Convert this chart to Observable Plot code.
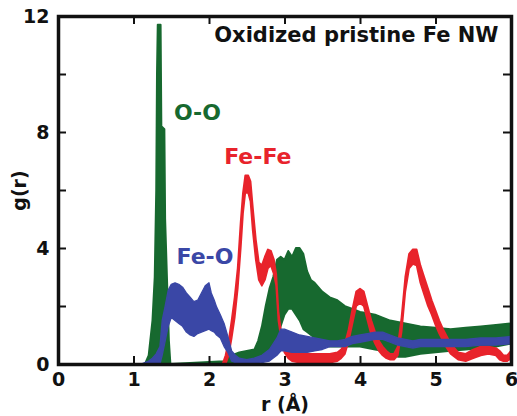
<!DOCTYPE html>
<html>
<head>
<meta charset="utf-8">
<script src="https://cdn.jsdelivr.net/npm/d3@7"></script>
<script src="https://cdn.jsdelivr.net/npm/@observablehq/plot@0.6"></script>
<style>
  html, body { margin: 0; padding: 0; background: #fff; }
  #chart svg { display: block; }
</style>
</head>
<body>
<div id="chart"></div>
<script>
// ---- data ----
// O-O partial g(r): upper / lower envelope of the noisy curve
const ooR  = [1.15,1.2,1.25,1.28,1.3,1.31,1.32,1.36,1.37,1.41,
              1.42,1.45,1.47,1.49,2.2,2.3,2.4,2.5,2.6,2.65,
              2.7,2.75,2.8,2.85,2.9,2.95,3.0,3.05,3.1,3.15,
              3.2,3.25,3.3,3.35,3.4,3.5,3.6,3.7,3.8,3.9,
              4.0,4.1,4.2,4.3,4.4,4.5,4.6,4.7,4.8,5.0,
              5.2,5.4,5.6,5.8,6.0];
const ooHi = [0,0.3,1.5,3.0,6.0,10.0,11.7,11.7,8.2,8.1,
              5.0,2.5,0.8,0,0.1,0.3,0.4,0.45,0.5,0.8,
              1.3,2.0,2.6,3.0,3.6,3.7,3.6,3.9,3.7,4.0,
              4.0,3.8,3.2,2.9,2.8,2.5,2.3,2.2,2.0,1.9,
              1.8,1.75,1.7,1.6,1.5,1.45,1.4,1.35,1.3,1.25,
              1.2,1.25,1.3,1.35,1.4];
const ooLo = [0,0,0,0,0,0,0,0,0,0,
              0,0,0,0,0,0,0.05,0.1,0.1,0.15,
              0.2,0.3,0.5,0.7,0.9,1.3,1.7,1.9,1.9,1.7,
              1.5,1.2,1.1,1.0,0.9,0.7,0.6,0.6,0.6,0.6,
              0.6,0.55,0.5,0.45,0.35,0.25,0.25,0.3,0.35,0.4,
              0.45,0.5,0.55,0.6,0.7];

// Fe-Fe partial g(r)
const ffR  = [2.18,2.22,2.26,2.3,2.34,2.38,2.42,2.45,2.48,2.52,
              2.55,2.58,2.62,2.66,2.7,2.74,2.78,2.82,2.86,2.89,
              2.92,2.96,3.0,3.05,3.1,3.2,3.3,3.4,3.5,3.6,
              3.7,3.75,3.8,3.85,3.9,3.95,4.0,4.05,4.1,4.15,
              4.2,4.25,4.3,4.35,4.4,4.45,4.5,4.55,4.6,4.65,
              4.7,4.75,4.8,4.85,4.9,4.95,5.0,5.05,5.1,5.15,
              5.2,5.3,5.4,5.5,5.6,5.7,5.8,5.85,5.9,5.95,
              6.0];
const ffHi = [0,0.3,0.8,1.5,2.3,3.3,4.9,5.9,6.5,6.5,
              6.3,5.4,4.3,3.5,3.4,3.7,3.95,3.9,3.6,3.1,
              1.8,1.0,0.6,0.45,0.4,0.35,0.35,0.35,0.35,0.35,
              0.4,0.5,0.7,1.2,1.9,2.5,2.6,2.5,2.0,1.5,
              1.1,0.8,0.6,0.45,0.35,0.35,0.6,1.6,3.0,3.8,
              3.95,3.95,3.4,3.0,2.6,2.2,1.85,1.5,1.2,0.95,
              0.7,0.4,0.35,0.5,0.6,0.6,0.55,0.45,0.3,0.3,
              0.45];
const ffLo = [0,0,0.3,0.9,1.6,2.6,4.0,5.2,5.9,5.9,
              5.6,4.6,3.6,2.9,2.7,2.9,3.3,3.4,3.1,2.7,
              1.5,0.8,0.4,0.2,0.1,0.05,0.03,0.03,0.03,0.05,
              0.1,0.2,0.35,0.8,1.4,2.0,2.1,2.0,1.5,1.0,
              0.7,0.45,0.3,0.2,0.15,0.15,0.3,1.1,2.5,3.3,
              3.45,3.4,2.8,2.4,2.0,1.7,1.35,1.05,0.8,0.55,
              0.35,0.15,0.1,0.2,0.3,0.35,0.3,0.15,0.1,0.1,
              0.2];

// Fe-O partial g(r)
const foR  = [1.1,1.15,1.2,1.25,1.3,1.35,1.38,1.42,1.46,1.5,
              1.55,1.6,1.65,1.7,1.75,1.8,1.85,1.9,1.95,2.0,
              2.03,2.07,2.1,2.15,2.2,2.25,2.3,2.35,2.4,2.5,
              2.6,2.7,2.8,2.9,2.95,3.0,3.1,3.2,3.3,3.4,
              3.5,3.6,3.7,3.8,3.9,4.0,4.1,4.2,4.3,4.4,
              4.5,4.6,4.7,4.8,4.9,5.0,5.2,5.4,5.6,5.8,
              6.0];
const foHi = [0,0.05,0.1,0.2,0.35,0.6,1.5,2.0,2.55,2.75,
              2.8,2.75,2.65,2.45,2.3,2.15,2.2,2.45,2.7,2.8,
              2.45,2.2,1.97,1.7,1.4,0.95,0.45,0.3,0.2,0.15,
              0.2,0.3,0.5,0.9,1.2,1.2,1.1,1.0,0.95,0.9,
              0.85,0.8,0.8,0.85,0.95,1.0,1.05,1.1,1.1,1.0,
              0.9,0.85,0.8,0.85,0.85,0.85,0.85,0.85,0.9,0.9,
              0.95];
const foLo = [0,0,0,0,0,0,0.3,0.8,1.3,1.6,
              1.5,1.4,1.3,1.1,1.0,0.95,1.05,1.1,1.15,1.2,
              1.15,1.1,1.0,0.9,0.6,0.4,0.1,0.05,0,0,
              0,0.05,0.1,0.3,0.45,0.45,0.4,0.4,0.4,0.45,
              0.5,0.6,0.6,0.6,0.7,0.75,0.8,0.85,0.85,0.75,
              0.65,0.6,0.55,0.6,0.6,0.6,0.6,0.6,0.65,0.65,
              0.7];

const xTickLabels = [0, 1, 2, 3, 4, 5, 6];
const xMinorTicks = [1, 2, 3, 4, 5];
const yTickLabels = [0, 4, 8, 12];
const yMinorTicks = [2, 4, 6, 8, 10];

const seriesNames = ["O-O", "Fe-Fe", "Fe-O"];
const labelR = [1.84, 2.64, 1.94];
const labelG = [8.67, 7.14, 3.72];
const titleText = "Oxidized pristine Fe NW";
const xLabel = "r (Å)";
const yLabel = "g(r)";

// ---- build tables ----
const zip = (r, hi, lo) => r.map((v, i) => ({r: v, hi: hi[i], lo: lo[i]}));
const oo = zip(ooR, ooHi, ooLo);
const ff = zip(ffR, ffHi, ffLo);
const fo = zip(foR, foHi, foLo);

const GREEN = "#17692f", RED = "#e8232b", BLUE = "#3a47a6";
const colors = [GREEN, RED, BLUE];
const labels = seriesNames.map((t, i) => ({t, r: labelR[i], g: labelG[i], c: colors[i]}));

const W = 517, H = 416;
const mL = 58, mR = 6, mT = 16, mB = 52;
const frameW = W - mL - mR, frameH = H - mT - mB;
const tickLen = 8;
const FONT = "'DejaVu Sans', sans-serif";

const band = (data, color, sw) => Plot.areaY(data, {
  x: "r", y1: "lo", y2: "hi", fill: color, stroke: color,
  strokeWidth: sw, strokeLinejoin: "round", curve: "linear"
});

const chart = Plot.plot({
  width: W, height: H,
  marginLeft: mL, marginRight: mR, marginTop: mT, marginBottom: mB,
  style: {fontFamily: FONT, fontWeight: "bold", color: "#111", background: "#fff"},
  x: {domain: [0, 6]},
  y: {domain: [0, 12]},
  marks: [
    band(oo, GREEN, 1.8),
    band(ff, RED, 1.8),
    band(fo, BLUE, 1.3),
    // inward ticks on all four sides
    Plot.tickX(xMinorTicks, {x: d => d, insetTop: frameH - tickLen, stroke: "#111", strokeWidth: 2}),
    Plot.tickX(xMinorTicks, {x: d => d, insetBottom: frameH - tickLen, stroke: "#111", strokeWidth: 2}),
    Plot.tickY(yMinorTicks, {y: d => d, insetRight: frameW - tickLen, stroke: "#111", strokeWidth: 2}),
    Plot.tickY(yMinorTicks, {y: d => d, insetLeft: frameW - tickLen, stroke: "#111", strokeWidth: 2}),
    // tick labels and axis titles
    Plot.axisX(xTickLabels, {anchor: "bottom", tickSize: 0, tickPadding: 8, fontSize: 19, fontWeight: "bold",
      label: xLabel, labelAnchor: "center", labelOffset: 46, labelArrow: "none"}),
    Plot.axisY(yTickLabels, {anchor: "left", tickSize: 0, tickPadding: 9, fontSize: 19, fontWeight: "bold",
      label: yLabel, labelAnchor: "center", labelOffset: 46, labelArrow: "none"}),
    // series labels
    ...labels.map(l => Plot.text([l], {x: "r", y: "g", text: "t", fill: l.c, fontSize: 22, fontWeight: "bold"})),
    // title inside frame
    Plot.text([titleText], {frameAnchor: "top-right", dx: -13, dy: 11, lineAnchor: "top", textAnchor: "end",
      fontSize: 21, fontWeight: "bold", fill: "#111"}),
    Plot.frame({stroke: "#111", strokeWidth: 3.5})
  ]
});
document.getElementById("chart").appendChild(chart);
</script>
</body>
</html>
